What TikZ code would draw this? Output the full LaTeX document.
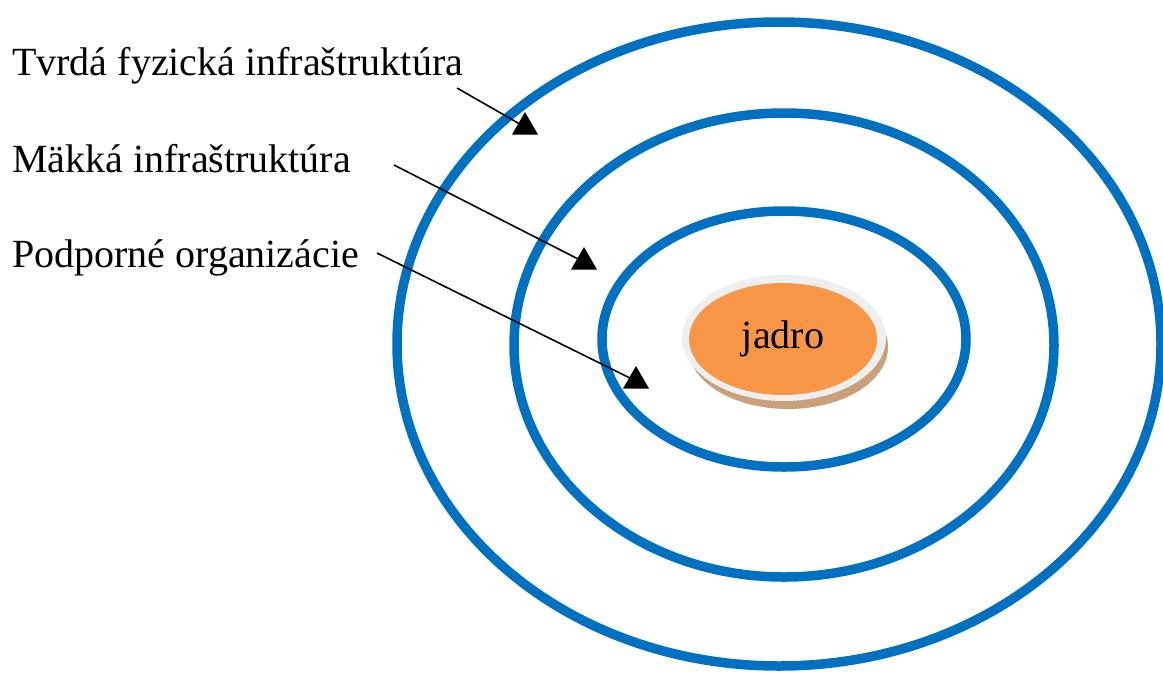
\documentclass[tikz,border=0pt]{standalone}
\usepackage{fontspec}
\setmainfont{Liberation Serif}
\usetikzlibrary{shapes.geometric}
\definecolor{ringblue}{HTML}{0070C0}
\definecolor{coreorange}{HTML}{F79646}
\definecolor{corerim}{HTML}{EFEFEF}
\definecolor{coreshadow}{HTML}{C9A07A}
\begin{document}
\begin{tikzpicture}[x=1pt,y=-1pt,
  ring/.style={ellipse,draw=ringblue,line width=9.5pt,inner sep=0pt},
  lbl/.style={anchor=base west,inner sep=0pt,font=\fontsize{40}{48}\selectfont},
  pointer/.style={line width=1.6pt,black},
  tip/.style={regular polygon,regular polygon sides=3,fill=black,inner sep=0pt,minimum size=30pt}]
\useasboundingbox (0,0) rectangle (1163,673);
% rings
\node[ring,minimum width=764pt,minimum height=644pt] (outer) at (779,344) {};
\node[ring,minimum width=540pt,minimum height=464pt] (middle) at (784,345) {};
\node[ring,minimum width=364pt,minimum height=256pt] (inner) at (784,339) {};
% core
\node[ellipse,fill=coreshadow,inner sep=0pt,minimum width=200pt,minimum height=124pt] (coreshadow) at (788,347) {};
\node[ellipse,fill=corerim,inner sep=0pt,minimum width=204pt,minimum height=126pt] (corerim) at (784,338) {};
\node[ellipse,fill=coreorange,inner sep=0pt,minimum width=188pt,minimum height=112pt,font=\fontsize{40}{48}\selectfont] (core) at (783,339) {jadro};
% labels
\node[lbl] (t1) at (12,75) {Tvrdá fyzická infraštruktúra};
\node[lbl] (t2) at (12,172) {Mäkká infraštruktúra};
\node[lbl] (t3) at (12,267) {Podporné organizácie};
% pointers
\coordinate (s1) at (457,88);
\coordinate (s2) at (394,165);
\coordinate (s3) at (377,253);
\node[tip] (h1) at (525,127) {};
\node[tip] (h2) at (584,262) {};
\node[tip] (h3) at (636,381) {};
\draw[pointer] (s1) -- (h1.center);
\draw[pointer] (s2) -- (h2.center);
\draw[pointer] (s3) -- (h3.center);
\end{tikzpicture}
\end{document}
